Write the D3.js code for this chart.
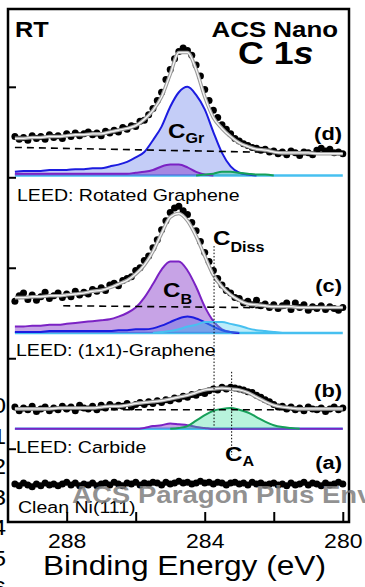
<!DOCTYPE html>
<html>
<head>
<meta charset="utf-8">
<script src="https://cdn.jsdelivr.net/npm/d3@7"></script>
<style>
  html, body { margin: 0; padding: 0; background: #fff; }
  svg { display: block; font-family: "Liberation Sans", Arial, Helvetica, sans-serif; }
</style>
</head>
<body>
<div id="chart"></div>
<script>
// axes
const energyDomain = [289.7, 279.82];
const countDomain = [19, 586];
const bindingEnergyTicks = [288, 286, 284, 282, 280];
const bindingEnergyLabels = ['288', '', '284', '', '280'];
const intensityTicks = [100, 200, 300, 400, 500];

// energy grids: fits/components every 0.25 eV, data every 0.125 eV
const startEnergy = 289.5;
const fitStep = 0.25;
const dataStep = 0.125;

// panels, top to bottom
const panelNames = ['(d)', '(c)', '(b)', '(a)'];
const panelOffsets = [402, 228, 122, 60];
const leedLabels = ['LEED: Rotated Graphene', 'LEED: (1x1)-Graphene', 'LEED: Carbide', 'Clean Ni(111)'];

// (d) rotated graphene
const dataD = [43,40,42,39,44,41,43,40,45,42, 44,41,46,43,47,44,46,48,45,47,
  44,49,47,50,48,53,51,55,54,60, 61,67,74,83,92,106,117,129,137,141,
  138,133,122,110,95,83,72,64,56,51, 46,41,38,35,33,31,30,28,29,26,
  27,24,26,23,27,25,22,26,25,23, 28,30,27,29,25,26,24];
const fitD = [41,41,42,42,43,43,44,45,45,46, 46,48,50,52,55,62,72,87,112,136,
  136,117,87,64,52,43,36,32,29,28, 26,25,25,25,25,24,24,24,24];
const blueD = [4,5,5,5,6,6,6,7,7,8, 8,10,12,15,20,26,39,54,76,92,
  98,89,73,48,25,10,3,1,0,0, 0,0,0,0,0,0,0,0,0];
const purpleD = [2,2,2,2,2,2,2,2,2,2, 2,2,2,2,3,4,6,10,12,12,
  9,4,1,0,0,0,0,0,0,0, 0,0,0,0,0,0,0,0,0];
const greenD = [0,0,0,0,0,0,0,0,0,0, 0,0,0,0,0,0,0,0,0,0,
  0,0,1,2,4,4,3,2,1,1, 0,0,0,0,0,0,0,0,0];
const bgEnergyD = [289.5, 280.0];
const bgD = [31, 24];

// (c) 1x1 graphene
const dataC = [35,41,44,37,42,36,40,45,38,41, 44,39,43,40,46,42,45,43,48,46,
  50,47,53,55,52,58,60,62,69,72, 80,85,94,103,114,124,133,138,140,135,
  131,122,113,101,89,79,69,60,53,47, 44,39,38,33,35,31,36,30,32,28,
  31,27,30,33,26,33,28,31,25,29, 27,30,26,29,27,25,28];
const fitC = [39,39,40,40,41,41,42,43,44,46, 47,50,54,58,65,75,90,110,128,132,
  124,107,85,64,51,42,36,32,31,30, 29,29,29,28,28,28,28,28,28];
const purpleC = [7,7,8,8,9,9,10,11,12,13, 14,15,18,22,28,39,54,70,79,79,
  69,51,29,13,4,1,0,0,0,0, 0,0,0,0,0,0,0,0,0];
const blueC = [1,1,1,1,2,2,2,2,2,2, 2,2,3,3,4,4,5,8,12,16,
  18,16,12,7,3,1,0,0,0,0, 0,0,0,0,0,0,0,0,0];
const cyanC = [0,0,0,0,0,0,0,0,0,0, 0,0,0,0,0,0,0,1,2,4,
  7,9,12,12,12,10,8,5,3,2, 1,0,0,0,0,0,0,0,0];
const bgEnergyC = [288.1, 280.0];
const bgC = [30, 27];

// (b) carbide
const dataB = [24,20,23,21,25,19,22,24,20,23, 21,25,22,24,20,26,23,22,25,21,
  26,23,27,24,26,25,28,24,27,29, 27,30,28,31,29,32,31,34,33,36,
  35,38,37,40,39,42,44,43,46,44, 46,45,44,43,41,40,37,35,32,30,
  27,24,25,22,24,21,23,20,24,22, 21,23,19,22,24,21,23];
const fitB = [22,22,22,22,22,23,23,23,23,23, 24,25,25,26,28,29,30,31,33,35,
  37,40,43,44,45,44,43,40,35,30, 26,24,23,22,22,22,22,22,22];
const purpleB = [0,0,0,0,0,0,0,0,0,0, 0,0,0,0,0,1,3,4,6,5,
  4,2,1,0,0,0,0,0,0,0, 0,0,0,0,0,0,0,0,0];
const greenB = [0,0,0,0,0,0,0,0,0,0, 0,0,0,0,0,0,0,0,0,1,
  3,9,15,20,22,23,21,18,13,8, 4,2,1,0,0,0,0,0,0];
const bgEnergyB = [289.5, 280.0];
const bgB = [21, 21];

// (a) clean Ni(111)
const dataA = [1,-1,2,0,-2,1,-1,2,0,1, -1,1,3,0,2,-1,1,0,2,-1,
  1,2,0,3,1,-1,2,1,3,0, 2,1,3,2,0,3,1,2,4,2,
  3,1,2,4,2,3,1,3,2,0, 2,3,1,2,0,3,1,2,0,1,
  2,0,1,-1,2,0,1,3,0,2, 1,-1,2,0,1,3,1];

// dotted guide lines for C_Diss and C_A
const markerEnergies = [283.73, 283.22];
const markerTop = [324, 185];
const markerBottom = [124, 93];

// clipped tick labels of the neighbouring panel
const sideDigits = ['0', '1', '2', '3', '4', '5', '6'];

const W = 365, H = 587;
const stretch = 1.15;

const BLUE = '#1c1ce0', PURPLE = '#7b22c4', GREEN = '#17a05a', CYAN = '#47c0f0';
const BLUE_FILL = 'rgba(60,90,230,0.3)', PURPLE_FILL = 'rgba(130,50,200,0.45)';
const GREEN_FILL = 'rgba(40,220,150,0.33)', CYAN_FILL = 'rgba(60,200,240,0.35)';

const svg = d3.select('#chart').append('svg').attr('width', W).attr('height', H);

const x = d3.scaleLinear().domain(energyDomain).range([8, 349]);
const y = d3.scaleLinear().domain(countDomain).range([522, 9]);

const fitGrid = fitD.map((_, i) => startEnergy - i * fitStep);
const dataGrid = dataD.map((_, i) => startEnergy - i * dataStep);

const panels = [
  { offset: panelOffsets[0], data: dataD, fit: fitD, bgE: bgEnergyD, bg: bgD, comps: [
    { values: blueD, stroke: BLUE, fill: BLUE_FILL },
    { values: purpleD, stroke: PURPLE, fill: PURPLE_FILL },
    { values: greenD, stroke: GREEN, fill: GREEN_FILL }] },
  { offset: panelOffsets[1], data: dataC, fit: fitC, bgE: bgEnergyC, bg: bgC, comps: [
    { values: purpleC, stroke: PURPLE, fill: PURPLE_FILL },
    { values: blueC, stroke: BLUE, fill: BLUE_FILL },
    { values: cyanC, stroke: CYAN, fill: CYAN_FILL }] },
  { offset: panelOffsets[2], data: dataB, fit: fitB, bgE: bgEnergyB, bg: bgB, comps: [
    { values: purpleB, stroke: PURPLE, fill: PURPLE_FILL, full: true },
    { values: greenB, stroke: GREEN, fill: GREEN_FILL }] },
  { offset: panelOffsets[3], data: dataA, fit: null, bg: null, comps: [] }
];

// only draw a component's outline where it rises above zero
function trimRange(values) {
  const first = values.findIndex(v => v !== 0);
  let last = values.length - 1;
  while (last > 0 && values[last] === 0) last--;
  return [Math.max(0, first - 1), Math.min(values.length - 1, last + 1)];
}

const plot = svg.append('g');

panels.forEach(p => {
  const g = plot.append('g');
  const line = d3.line().x(d => x(d.e)).y(d => y(p.offset + d.v)).curve(d3.curveMonotoneX);
  const area = d3.area().x(d => x(d.e)).y0(y(p.offset)).y1(d => y(p.offset + d.v)).curve(d3.curveMonotoneX);

  if (p.comps.length) {
    g.append('path')
      .datum(fitGrid.map(e => ({ e, v: 0 })))
      .attr('d', line)
      .attr('fill', 'none')
      .attr('stroke', CYAN)
      .attr('stroke-width', 2.5);
  }

  p.comps.forEach(c => {
    const pts = c.values.map((v, i) => ({ e: fitGrid[i], v }));
    const [a, b] = c.full ? [0, pts.length - 1] : trimRange(c.values);
    const seg = pts.slice(a, b + 1);
    g.append('path').datum(seg).attr('d', area).attr('fill', c.fill);
    g.append('path').datum(seg).attr('d', line)
      .attr('fill', 'none').attr('stroke', c.stroke).attr('stroke-width', 2);
  });

  if (p.bg) {
    g.append('path')
      .datum(p.bgE.map((e, i) => ({ e, v: p.bg[i] })))
      .attr('d', d3.line().x(d => x(d.e)).y(d => y(p.offset + d.v)))
      .attr('fill', 'none')
      .attr('stroke', '#000')
      .attr('stroke-width', 1.6)
      .attr('stroke-dasharray', '7,5');
  }

  g.selectAll('circle')
    .data(p.data.map((v, i) => ({ e: dataGrid[i], v })))
    .enter()
    .append('circle')
    .attr('cx', d => x(d.e))
    .attr('cy', d => y(p.offset + d.v))
    .attr('r', 3.5)
    .attr('fill', '#000');

  if (p.fit) {
    const fitPts = p.fit.map((v, i) => ({ e: fitGrid[i], v }));
    g.append('path').datum(fitPts).attr('d', line)
      .attr('fill', 'none').attr('stroke', '#9a9a9a').attr('stroke-width', 3.6);
    g.append('path').datum(fitPts).attr('d', line)
      .attr('fill', 'none').attr('stroke', '#f4f4f4').attr('stroke-width', 1.4);
  }
});

// dotted guide lines
markerEnergies.forEach((e, i) => {
  plot.append('line')
    .attr('x1', x(e)).attr('x2', x(e))
    .attr('y1', y(markerTop[i])).attr('y2', y(markerBottom[i]))
    .attr('stroke', '#000')
    .attr('stroke-width', 1)
    .attr('stroke-dasharray', '1.5,1.8');
});

// axes (ticks point inward, no y labels)
const gx = svg.append('g')
  .attr('transform', 'translate(0,522)')
  .call(d3.axisBottom(x).tickValues(bindingEnergyTicks).tickSize(-10)
    .tickFormat((d, i) => bindingEnergyLabels[i]));
gx.select('.domain').remove();
gx.selectAll('line').attr('stroke', '#000').attr('stroke-width', 2);
gx.selectAll('text')
  .attr('y', 26).attr('dy', 0)
  .attr('fill', '#000')
  .attr('font-size', 20)
  .attr('font-family', '"Liberation Sans", Arial, sans-serif')
  .attr('transform', `scale(${stretch},1)`);

const gy = svg.append('g')
  .attr('transform', 'translate(8,0)')
  .call(d3.axisLeft(y).tickValues(intensityTicks).tickSize(-8).tickFormat(''));
gy.select('.domain').remove();
gy.selectAll('line').attr('stroke', '#000').attr('stroke-width', 2);

svg.append('rect')
  .attr('x', 8).attr('y', 9).attr('width', 341).attr('height', 513)
  .attr('fill', 'none').attr('stroke', '#000').attr('stroke-width', 2.5);

// text helper: horizontally stretched like the source figure
function label(x0, y0, parts, size, opts = {}) {
  const t = svg.append('text')
    .attr('transform', `translate(${x0},${y0}) scale(${stretch},1)`)
    .attr('text-anchor', opts.anchor || 'start')
    .attr('font-size', size)
    .attr('font-weight', opts.weight || 'normal')
    .attr('fill', opts.fill || '#000');
  parts.forEach(pt => {
    const s = t.append('tspan').text(pt.text);
    if (pt.dy) s.attr('dy', pt.dy);
    if (pt.size) s.attr('font-size', pt.size);
    if (pt.style) s.attr('font-style', pt.style);
  });
  return t;
}

// side digits, clipped at the left edge
const sideY = d3.scaleLinear().domain([0, sideDigits.length - 1]).range([413, 596]);
sideDigits.forEach((d, i) => label(6, sideY(i), [{ text: d }], 22, { anchor: 'end' }));

label(15, 37, [{ text: 'RT' }], 22, { weight: 'bold' });
label(338, 37, [{ text: 'ACS Nano' }], 22.5, { weight: 'bold', anchor: 'end' });
label(238, 64, [{ text: 'C 1' }, { text: 's', style: 'italic' }], 31, { weight: 'bold' });

const nameY = [140, 292, 397, 469];
panelNames.forEach((n, i) => label(342, nameY[i], [{ text: n }], 19, { weight: 'bold', anchor: 'end' }));

const leedPos = [[17, 201], [16, 356], [16, 453], [18, 513]];
leedLabels.forEach((t, i) => label(leedPos[i][0], leedPos[i][1], [{ text: t }], 17));

label(168, 138, [{ text: 'C' }, { text: 'Gr', dy: 5, size: 14 }], 21, { weight: 'bold' });
label(163, 297, [{ text: 'C' }, { text: 'B', dy: 7, size: 14 }], 21, { weight: 'bold' });
label(213, 245, [{ text: 'C' }, { text: 'Diss', dy: 7, size: 14 }], 21, { weight: 'bold' });
label(225, 461, [{ text: 'C' }, { text: 'A', dy: 5, size: 14 }], 21, { weight: 'bold' });

label(43, 575, [{ text: 'Binding Energy (eV)' }], 27.5);

// journal watermark
label(72, 503, [{ text: 'ACS Paragon Plus Environment' }], 24,
  { weight: 'bold', fill: 'rgba(125,125,125,0.85)' });
</script>
</body>
</html>
